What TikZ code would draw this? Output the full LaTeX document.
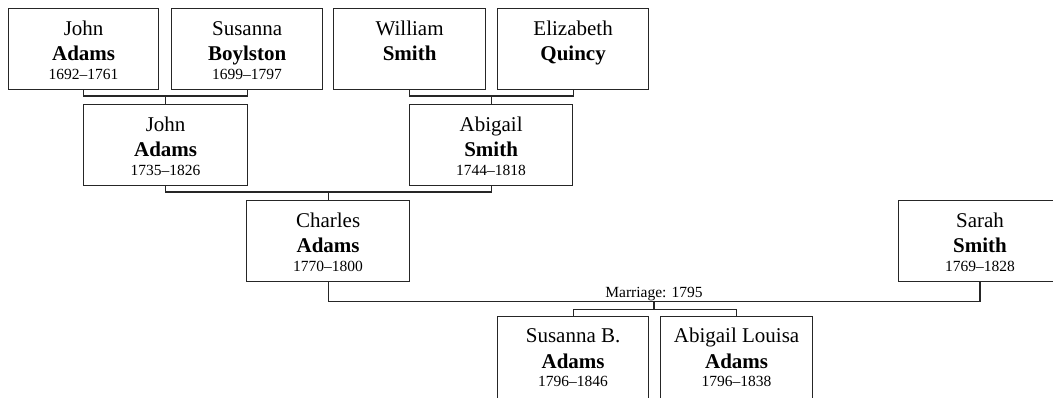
\documentclass[tikz,border=0pt]{standalone}
\usepackage{fontspec}
\setmainfont{Liberation Serif}
\usetikzlibrary{calc}
\newcommand\namefont{\fontsize{21}{24}\selectfont}
\newcommand\datefont{\fontsize{15.5}{18}\selectfont}
\newcommand\person[8]{%
  \node[pbox, minimum width=#4pt, minimum height=#8pt, anchor=north west] (#1) at (#2,#3) {};
  \node[ptext] (#1-first) at ([yshift=-27pt]#1.north) {\namefont #5};
  \node[ptext] (#1-last) at ([yshift=-52.5pt]#1.north) {\namefont\bfseries #6};
  \if\relax\detokenize{#7}\relax\else
  \node[ptext] (#1-dates) at ([yshift=-71pt]#1.north) {\datefont #7};
  \fi}
\begin{document}
\begin{tikzpicture}[x=1pt,y=-1pt,
  pbox/.style={draw=black!85, line width=1.2pt, inner sep=0pt, fill=white},
  ptext/.style={inner sep=0pt, anchor=base, text=black},
  conn/.style={draw=black!85, line width=1.2pt},
  mlabel/.style={inner sep=0pt, anchor=base, font=\datefont}]
\useasboundingbox (0,0) rectangle (1053,397);
% generation 1
\person{ja1}{8}{8}{150}{John}{Adams}{1692--1761}{81}
\person{sb}{171}{8}{151}{Susanna}{Boylston}{1699--1797}{81}
\person{ws}{333}{8}{152}{William}{Smith}{}{81}
\person{eq}{497}{8}{151}{Elizabeth}{Quincy}{}{81}
% generation 2
\person{ja2}{83}{104}{164}{John}{Adams}{1735--1826}{81}
\person{as}{409}{104}{163}{Abigail}{Smith}{1744--1818}{81}
% generation 3
\person{ca}{246}{200}{163}{Charles}{Adams}{1770--1800}{81}
\node[pbox, minimum width=180pt, minimum height=81pt, anchor=north west] (ss) at (898,200) {};
\node[ptext] (ss-first) at ([yshift=-27pt]980,200) {\namefont Sarah};
\node[ptext] (ss-last) at ([yshift=-52.5pt]980,200) {\namefont\bfseries Smith};
\node[ptext] (ss-dates) at ([yshift=-71pt]980,200) {\datefont 1769--1828};
\coordinate (ssd) at (980,281);
% generation 4
\person{sba}{497}{315.5}{151}{Susanna B.}{Adams}{1796--1846}{100}
\person{ala}{660}{315.5}{152}{Abigail Louisa}{Adams}{1796--1838}{100}
% connectors
\coordinate (m1) at ([yshift=8pt]ja2.north);
\draw[conn] (ja1.south) |- (m1) -| (sb.south);
\draw[conn] (m1) -- (ja2.north);
\coordinate (m2) at ([yshift=8pt]as.north);
\draw[conn] (ws.south) |- (m2) -| (eq.south);
\draw[conn] (m2) -- (as.north);
\coordinate (m3) at ([yshift=8pt]ca.north);
\draw[conn] (ja2.south) |- (m3) -| (as.south);
\draw[conn] (m3) -- (ca.north);
\coordinate (mm) at ($(ca.south)!0.5!(ssd) + (0,20)$);
\draw[conn] (ca.south) |- (mm) -| (ssd);
\node[mlabel] (mlab) at ($(mm)+(0,-4.5)$) {Marriage: 1795};
\coordinate (cb) at ($(mm)+(0,7.5)$);
\draw[conn] (mm) -- (cb);
\draw[conn] ([yshift=-0.6pt]sba.north) |- (cb) -| ([yshift=-0.6pt]ala.north);
\end{tikzpicture}
\end{document}
